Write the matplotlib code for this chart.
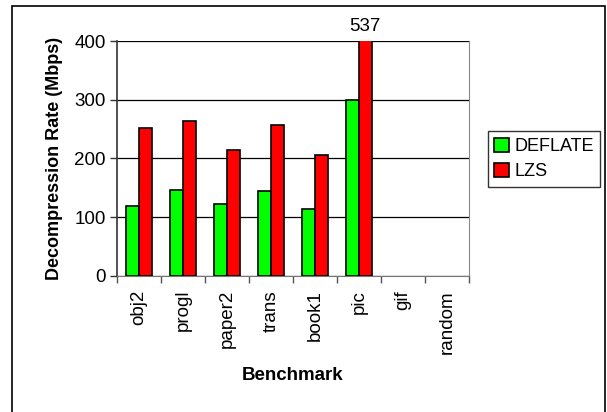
import numpy as np
import matplotlib
matplotlib.use('Agg')
import matplotlib.pyplot as plt
from matplotlib.patches import Rectangle

plt.rcParams['font.family'] = ['Liberation Sans', 'DejaVu Sans']

benchmarks = ["obj2", "progl", "paper2", "trans", "book1", "pic", "gif", "random"]
deflate = [120, 147, 123, 144, 114, 300, 0, 0]
lzs = [252, 263, 215, 257, 206, 537, 0, 0]

W, H = 607, 412
fig = plt.figure(figsize=(W / 100, H / 100), dpi=100)

# outer chart frame (bottom edge falls outside the image)
fig.patches.append(Rectangle((12 / W, -0.05), (605 - 12) / W, 1.05 - 6 / H,
                             transform=fig.transFigure, fill=False,
                             edgecolor='black', linewidth=1.2, clip_on=False))

ax = fig.add_axes([117 / W, 1 - 276 / H, (469 - 117) / W, (276 - 41) / H])

x = np.arange(len(benchmarks))
bw = 0.29
d_bars = ax.bar(x - bw / 2, deflate, bw, color='#00ff00', edgecolor='black',
                linewidth=1.2, label='DEFLATE', zorder=3)
l_bars = ax.bar(x + bw / 2, lzs, bw, color='#ff0000', edgecolor='black',
                linewidth=1.2, label='LZS', zorder=3)
# zero-height bars are not drawn in the original
for bars, vals in ((d_bars, deflate), (l_bars, lzs)):
    for b, v in zip(bars, vals):
        if v == 0:
            b.set_visible(False)

ax.set_ylim(0, 400)
ax.set_xlim(-0.5, len(benchmarks) - 0.5)
ax.set_yticks([0, 100, 200, 300, 400])
ax.tick_params(axis='y', labelsize=13.5, length=5, width=1, color='#333333', pad=3)
ax.yaxis.grid(True, color='black', linewidth=0.9, zorder=0)

ax.set_xticks(x)
ax.set_xticklabels(benchmarks, rotation=90, fontsize=13.5)
ax.tick_params(axis='x', length=0, pad=10)
ax.set_xticks(np.arange(len(benchmarks) + 1) - 0.5, minor=True)
ax.tick_params(axis='x', which='minor', length=5, width=1, color='#555555')

ax.spines['left'].set_color('#333333')
ax.spines['left'].set_linewidth(1.2)
ax.spines['bottom'].set_color('#777777')
ax.spines['right'].set_color('#888888')
ax.spines['top'].set_visible(False)

# value of the clipped bar
i = benchmarks.index("pic")
ax.text(x[i] + bw / 2, 410, str(lzs[i]), ha='center', va='bottom', fontsize=13.5,
        clip_on=False)

ax.set_ylabel('Decompression Rate (Mbps)', fontsize=13, fontweight='bold', labelpad=8)
ax.set_xlabel('Benchmark', fontsize=13.5, fontweight='bold', labelpad=10)

leg = ax.legend(loc='center left', bbox_to_anchor=(488 / W, 1 - 159 / H),
                bbox_transform=fig.transFigure, fontsize=13, frameon=True,
                fancybox=False, edgecolor='black', handlelength=0.8,
                handleheight=0.8, handletextpad=0.3, borderpad=0.35,
                labelspacing=0.45, borderaxespad=0)
leg.get_frame().set_linewidth(1)

fig.savefig('out.png', dpi=100)
